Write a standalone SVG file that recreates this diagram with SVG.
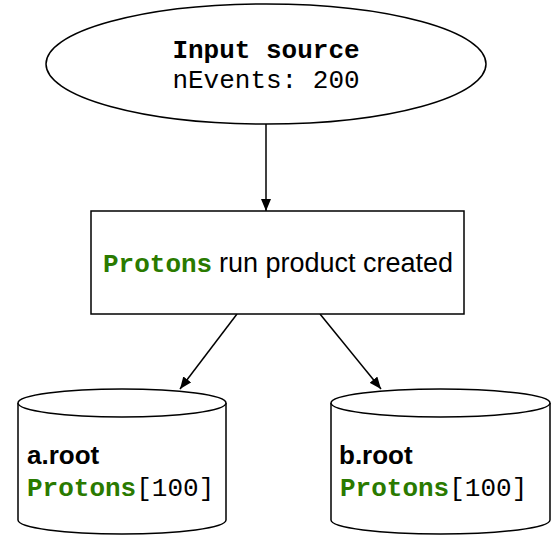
<svg xmlns="http://www.w3.org/2000/svg" width="557" height="540" viewBox="0 0 557 540">
<style>
.shape{fill:#fff;stroke:#000;stroke-width:1.5}
.mono{font-family:"Liberation Mono","Courier New",monospace;font-size:26px}
.monob{font-family:"Liberation Mono","Courier New",monospace;font-size:26px;font-weight:bold}
.sans{font-family:"Liberation Sans",Arial,sans-serif;font-size:27px}
.sansb{font-family:"Liberation Sans",Arial,sans-serif;font-size:26px;font-weight:bold}
.green{fill:#2a7a00}
.edge{stroke:#000;stroke-width:1.5;fill:none;marker-end:url(#arr)}
</style>
<defs>
<marker id="arr" viewBox="0 0 12 10" refX="12" refY="5" markerWidth="12" markerHeight="10" markerUnits="userSpaceOnUse" orient="auto">
<path d="M0,0 L12,5 L0,10 Z" fill="#000"/>
</marker>
</defs>
<g id="connectors">
<line class="edge" x1="266" y1="124" x2="266" y2="211"/>
<line class="edge" x1="237" y1="314" x2="180" y2="389"/>
<line class="edge" x1="320" y1="314" x2="381" y2="389"/>
</g>
<g id="input">
<ellipse class="shape" cx="266" cy="64" rx="220" ry="60"/>
<text class="monob" x="266" y="58" text-anchor="middle">Input source</text>
<text class="mono" x="266" y="88" text-anchor="middle">nEvents: 200</text>
</g>
<g id="product">
<rect class="shape" x="91" y="211" width="373" height="103"/>
<text class="monob green" x="103" y="272">Protons</text>
<text class="sans" x="219" y="272">run product created</text>
</g>
<g id="a">
<path class="shape" d="M18,403 L18,520 A104,14 0 0 0 226,520 L226,403"/>
<ellipse class="shape" cx="122" cy="403" rx="104" ry="14"/>
<text class="sansb" x="27" y="464">a.root</text>
<text x="27" y="496"><tspan class="monob green">Protons</tspan><tspan class="mono">[100]</tspan></text>
</g>
<g id="b">
<path class="shape" d="M331,403 L331,520 A109.5,14 0 0 0 550,520 L550,403"/>
<ellipse class="shape" cx="440.5" cy="403" rx="109.5" ry="14"/>
<text class="sansb" x="339" y="464">b.root</text>
<text x="340" y="496"><tspan class="monob green">Protons</tspan><tspan class="mono">[100]</tspan></text>
</g>
</svg>
